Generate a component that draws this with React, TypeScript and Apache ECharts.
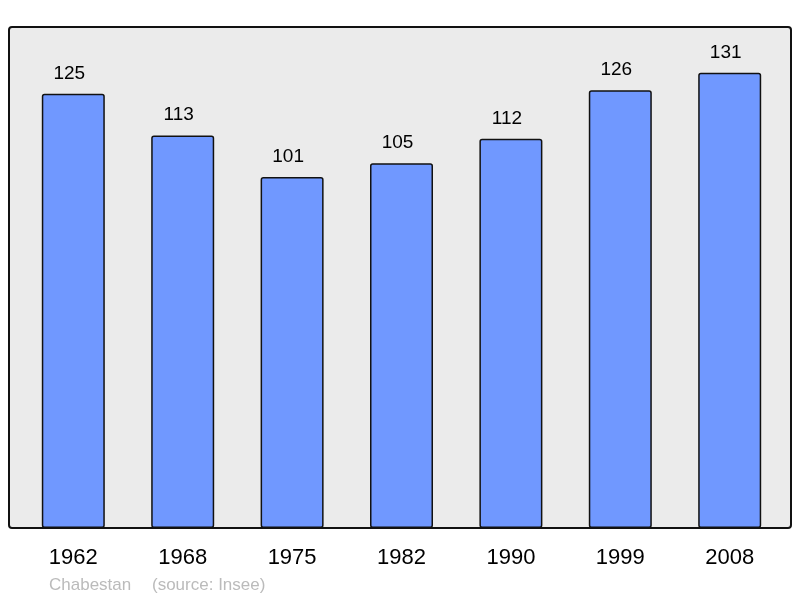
import React, { useEffect, useRef } from "react";
import * as echarts from "echarts";

const years = ["1962", "1968", "1975", "1982", "1990", "1999", "2008"];
const population = [125, 113, 101, 105, 112, 126, 131];
const footerPlace = "Chabestan";
const footerSource = "(source: Insee)";

export default function App() {
  const ref = useRef<HTMLDivElement>(null);
  useEffect(() => {
    if (!ref.current) return;
    const chart = echarts.init(ref.current, null, { renderer: "svg" });
    chart.setOption({
      animation: false,
      textStyle: { fontFamily: "Liberation Sans, Arial, sans-serif" },
      graphic: [
        {
          type: "rect",
          z: -10,
          shape: { x: 9, y: 27, width: 782, height: 501, r: 3 },
          style: { fill: "#ebebeb", stroke: "#111", lineWidth: 2 },
        },
        {
          type: "text",
          x: 49,
          y: 584,
          style: {
            text: footerPlace,
            fill: "#bbbbbb",
            fontSize: 17,
            fontFamily: "Liberation Sans, Arial, sans-serif",
            verticalAlign: "middle",
          },
        },
        {
          type: "text",
          x: 152,
          y: 584,
          style: {
            text: footerSource,
            fill: "#bbbbbb",
            fontSize: 17,
            fontFamily: "Liberation Sans, Arial, sans-serif",
            verticalAlign: "middle",
          },
        },
      ],
      grid: { left: 18.6, right: 15.6, top: 27, bottom: 70 },
      xAxis: {
        type: "category",
        data: years,
        axisLine: { show: false },
        axisTick: { show: false },
        axisLabel: {
          color: "#000",
          fontSize: 22,
          margin: 17,
          fontFamily: "Liberation Sans, Arial, sans-serif",
        },
      },
      yAxis: {
        type: "value",
        min: 0,
        max: 144.2,
        show: false,
        splitLine: { show: false },
      },
      series: [
        {
          type: "bar",
          data: population,
          barWidth: 63,
          itemStyle: {
            color: "#7098ff",
            borderColor: "#111",
            borderWidth: 1.5,
            borderRadius: 2,
          },
          label: {
            show: true,
            position: "top",
            distance: 12,
            offset: [-4, 0],
            color: "#000",
            fontSize: 19,
            fontFamily: "Liberation Sans, Arial, sans-serif",
          },
        },
      ],
    });
    return () => chart.dispose();
  }, []);
  return <div ref={ref} style={{ width: 800, height: 598, position: "fixed", left: 0, top: 0 }} />;
}
